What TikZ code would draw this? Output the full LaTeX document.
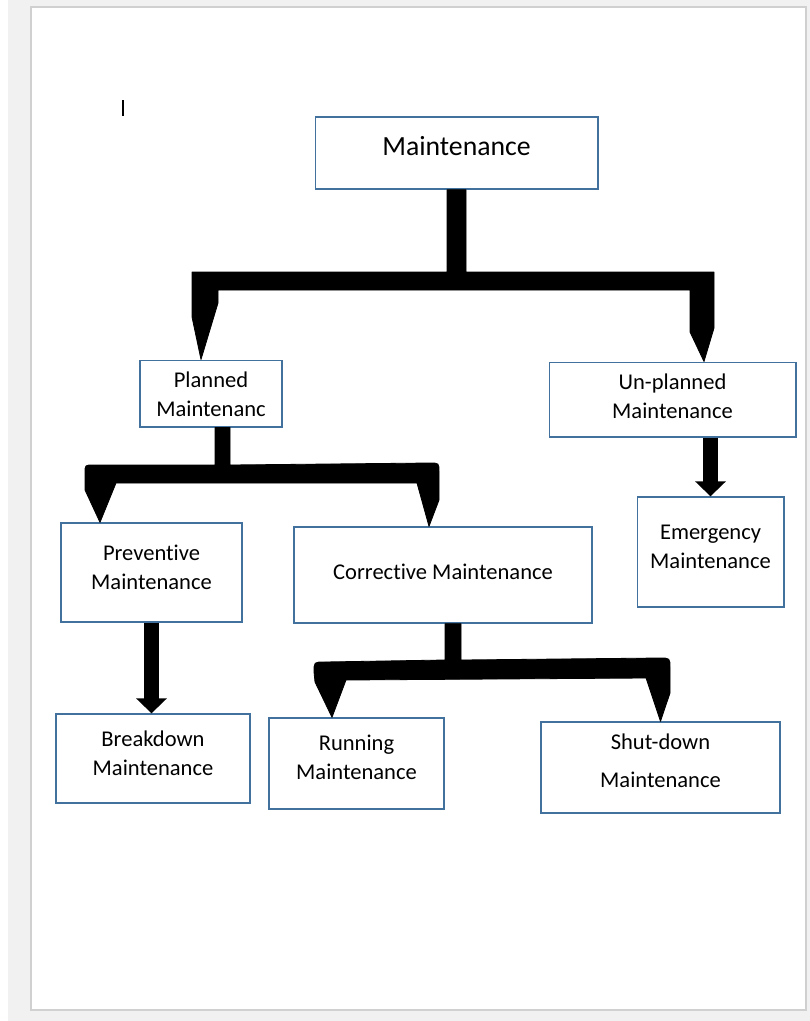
\documentclass[tikz,border=0pt]{standalone}
\usepackage{fontspec}
\setmainfont{Carlito}[Ligatures=NoCommon]
\usetikzlibrary{arrows.meta, calc}

\definecolor{boxblue}{RGB}{65,113,156}
\definecolor{pagegray}{RGB}{241,241,241}
\definecolor{pageedge}{RGB}{208,208,208}

% text sits a little above the middle of each box
\newcommand{\boxtext}[2]{\raisebox{#1}[\height][\depth]{\begin{tabular}{@{}c@{}}#2\end{tabular}}}

\begin{document}
\begin{tikzpicture}[x=0.75pt, y=-0.75pt,
                box/.style={rectangle, draw=boxblue, line width=1pt, fill=white, inner sep=2pt, font=\fontsize{16.9}{22}\selectfont},
                bracket/.style={fill=black, draw=black, line width=0.6pt, line join=round},
                fatarrow/.style={line width=11.25pt, -{Triangle[width=22.5pt, length=11.25pt]}}]
                % sheet
                \useasboundingbox (0,0) rectangle (810,1021);
                \fill[pagegray] (8,0) rectangle (810,1021);
                \draw[pageedge, fill=white, line width=1pt] (31,7) rectangle (806,1010);
                \draw[line width=0.9pt] (123,100) -- (123,116);

                \node[box, minimum width=212pt, minimum height=54pt, font=\fontsize{20.8}{25}\selectfont] (main) at (456.5,153) {\boxtext{3pt}{Maintenance}};
                \node[box, minimum width=106.5pt, minimum height=50pt] (planned) at (211,393.5) {\boxtext{-2pt}{Planned\\Maintenanc}};
                \node[box, minimum width=185pt, minimum height=56pt] (unplanned) at (672.5,399.5) {\boxtext{1pt}{Un-planned\\Maintenance}};
                \node[box, minimum width=110pt, minimum height=82.5pt] (emergency) at (710.5,552) {\boxtext{3pt}{Emergency\\Maintenance}};
                \node[box, minimum width=135.75pt, minimum height=74.25pt] (preventive) at (151.5,572.5) {\boxtext{2.5pt}{Preventive\\Maintenance}};
                \node[box, minimum width=223.5pt, minimum height=72pt] (corrective) at (443,575) {\boxtext{1pt}{Corrective Maintenance}};
                \node[box, minimum width=145.5pt, minimum height=66.75pt] (breakdown) at (153,758.5) {\boxtext{2.5pt}{Breakdown\\Maintenance}};
                \node[box, minimum width=131.25pt, minimum height=68.25pt] (running) at (356.5,763.5) {\boxtext{3.5pt}{Running\\Maintenance}};
                \node[box, minimum width=179.25pt, minimum height=68.25pt] (shutdown) at (660.5,767.5) {\boxtext{3.5pt}{Shut-down\\[6.5pt]Maintenance}};

                % bracket connectors
                \filldraw[bracket] ($(main.south)+(-9.5,0)$) |- (192,272) -- (192,317) -- ($(planned.north)+(-10,0)$)
                    -- (218,303) -- (218,290) -- (690,290) -- (690,332) -- ($(unplanned.north)+(31.5,0)$)
                    -- (714,328) -- (714,272) -| ($(main.south)+(9.5,0)$) -- cycle;
                \filldraw[bracket] ($(planned.south)+(4,0)$) -- (215,465) -- (93,465) .. controls (85,465) .. (85,473)
                    -- (85,490) -- ($(preventive.north)+(-51.5,0)$) -- (116,483) -- (417,483)
                    -- ($(corrective.north)+(-14,0)$) -- (439,500) -- (439,472) .. controls (439,463) .. (430,463)
                    -- (230,465) -- ($(planned.south)+(19,0)$) -- cycle;
                \filldraw[bracket] ($(corrective.south)+(2,0)$) -- (445,660) -- (324,662) .. controls (314,662) .. (314,672)
                    -- (315,682) -- ($(running.north)+(-24.5,0)$) -- (346,680) -- (646,678)
                    -- (shutdown.north) -- (670,693) -- (670,668) .. controls (670,658) .. (660,658)
                    -- (461,660) -- ($(corrective.south)+(18,0)$) -- cycle;

                \draw[fatarrow] (unplanned.south -| emergency.north) -- (emergency.north);
                \draw[fatarrow] (preventive.south) -- (preventive.south |- breakdown.north);
            \end{tikzpicture}
\end{document}
